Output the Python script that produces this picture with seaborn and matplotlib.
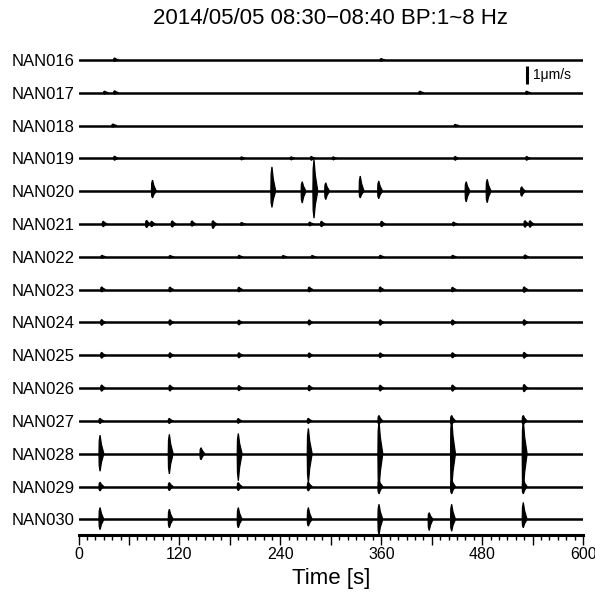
import numpy as np
import pandas as pd
import matplotlib
matplotlib.use("Agg")
import matplotlib.pyplot as plt
from matplotlib.ticker import MultipleLocator
import seaborn as sns

# Stationen von oben nach unten
stations = ['NAN016', 'NAN017', 'NAN018', 'NAN019', 'NAN020', 'NAN021', 'NAN022', 'NAN023',
            'NAN024', 'NAN025', 'NAN026', 'NAN027', 'NAN028', 'NAN029', 'NAN030']
spacing = 1.8   # Abstand der Spuren in um/s

# Ereignisse je Station: (Zeit [s], Ausschlag oben [um/s], Ausschlag unten [um/s])
ev016 = [(43, 0.10, 0.08), (360, 0.07, 0.07)]
ev017 = [(31, 0.08, 0.08), (43, 0.10, 0.08), (406, 0.08, 0.08), (533, 0.08, 0.08)]
ev018 = [(41, 0.08, 0.08), (448, 0.06, 0.06)]
ev019 = [(43, 0.12, 0.10), (194, 0.08, 0.08), (253, 0.08, 0.08), (277, 0.10, 0.10),
         (303, 0.08, 0.08), (448, 0.10, 0.10), (533, 0.10, 0.10)]
ev020 = [(88, 0.61, 0.37), (230, 1.33, 0.89), (266, 0.52, 0.65), (280, 1.72, 1.48),
         (294, 0.46, 0.46), (335, 0.83, 0.37), (357, 0.56, 0.41), (461, 0.52, 0.59),
         (486, 0.65, 0.63), (527, 0.24, 0.28)]
ev021 = [(29.5, 0.15, 0.15), (81, 0.20, 0.20), (87, 0.15, 0.15), (111.5, 0.17, 0.17),
         (135, 0.17, 0.12), (160, 0.18, 0.25), (194, 0.08, 0.08), (275, 0.10, 0.10),
         (289, 0.15, 0.15), (360.5, 0.15, 0.15), (446, 0.10, 0.10), (531, 0.18, 0.18),
         (537, 0.18, 0.18)]
ev022 = [(28, 0.08, 0.08), (109, 0.07, 0.07), (191, 0.08, 0.08), (243.5, 0.07, 0.07),
         (278, 0.07, 0.07), (359, 0.08, 0.08), (445, 0.08, 0.08), (531, 0.10, 0.10)]
ev023 = [(27.6, 0.15, 0.12), (108.8, 0.14, 0.12), (190.8, 0.13, 0.12), (274.4, 0.14, 0.12),
         (358.8, 0.15, 0.12), (444.8, 0.13, 0.12), (530, 0.15, 0.15)]
ev024 = [(27.6, 0.16, 0.16), (108.8, 0.15, 0.15), (190.8, 0.13, 0.13), (274.4, 0.14, 0.14),
         (358.8, 0.15, 0.15), (444.8, 0.14, 0.14), (530, 0.15, 0.15)]
ev025 = [(27.6, 0.16, 0.16), (108.8, 0.14, 0.14), (190.8, 0.14, 0.14), (274.4, 0.13, 0.13),
         (358.8, 0.13, 0.13), (444.8, 0.14, 0.14), (530, 0.16, 0.16)]
ev026 = [(27.6, 0.17, 0.17), (108.8, 0.16, 0.16), (190.8, 0.14, 0.14), (274.4, 0.15, 0.15),
         (358.8, 0.16, 0.16), (444.8, 0.17, 0.17), (530, 0.20, 0.20)]
ev027 = [(25.6, 0.14, 0.14), (108, 0.14, 0.14), (190, 0.13, 0.13), (273.3, 0.14, 0.14),
         (357.3, 0.30, 0.18), (443.7, 0.30, 0.20), (528.9, 0.30, 0.20)]
ev028 = [(25.6, 1.02, 0.96), (108, 1.06, 1.11), (145.7, 0.33, 0.33), (190, 1.11, 1.48),
         (273.3, 1.39, 1.61), (357.3, 1.78, 1.94), (443.7, 1.94, 1.94), (528.9, 1.83, 2.06)]
ev029 = [(25.6, 0.24, 0.24), (108, 0.22, 0.22), (190, 0.22, 0.22), (273.3, 0.24, 0.24),
         (357.3, 0.35, 0.40), (443.7, 0.40, 0.40), (528.9, 0.40, 0.40)]
ev030 = [(25.6, 0.65, 0.56), (108, 0.56, 0.46), (190, 0.65, 0.46), (273.3, 0.65, 0.37),
         (357.3, 0.83, 0.85), (417, 0.37, 0.61), (443.7, 0.83, 0.65), (528.9, 0.93, 0.46)]

events = [ev016, ev017, ev018, ev019, ev020, ev021, ev022, ev023,
          ev024, ev025, ev026, ev027, ev028, ev029, ev030]

t_start, t_end = 0, 600

sns.set_theme(style="ticks")
plt.rcParams['font.family'] = ['Liberation Sans', 'DejaVu Sans']
plt.rcParams['text.color'] = 'black'
plt.rcParams['xtick.color'] = 'black'
plt.rcParams['ytick.color'] = 'black'
plt.rcParams['axes.labelcolor'] = 'black'

fig = plt.figure(figsize=(5.95, 5.99), dpi=100)
ax = fig.add_axes([0.132, 0.107, 0.848, 0.818])

# Grundlinien der Spuren (Long-Format fuer seaborn)
offsets = [-spacing * i for i in range(len(stations))]
base = pd.DataFrame({
    'station': np.repeat(stations, 2),
    'time': [t_start, t_end] * len(stations),
    'offset': np.repeat(offsets, 2),
})
sns.lineplot(data=base, x='time', y='offset', units='station', estimator=None,
             color='black', lw=1.8, ax=ax, legend=False)

# Wellenzuege als Spindeln zeichnen (steiler Einsatz links, Coda rechts)
for y0, evs in zip(offsets, events):
    for t, up, dn in evs:
        xs = [t - 1.3, t - 1.0, t, t + 1.6, t + 4.5, t + 1.6, t, t - 1.0]
        ys = [0, 0.7 * up, up, 0.5 * up, 0, -0.5 * dn, -dn, -0.7 * dn]
        ax.fill(xs, [y0 + v for v in ys], color='black', lw=0.9, ec='black')

# Massstab 1 um/s
ax.plot([533, 533], [-0.33, -1.33], color='black', lw=2.2, solid_capstyle='butt')
ax.text(541, -0.83, '1\u03bcm/s', fontsize=10, va='center', ha='left')

ax.set_xlim(t_start, t_end)
ax.set_ylim(-spacing * 14 - 0.85, 0.82)
ax.set_yticks(offsets)
ax.set_yticklabels(stations, fontsize=12)
ax.tick_params(axis='y', length=0, pad=3)

ax.set_xticks(range(0, 601, 60))
ax.set_xticklabels([str(v) if v % 120 == 0 else '' for v in range(0, 601, 60)], fontsize=11.5)
ax.xaxis.set_minor_locator(MultipleLocator(10))
ax.tick_params(axis='x', which='major', direction='out', length=7, width=1, pad=2)
ax.tick_params(axis='x', which='minor', direction='out', length=3.5, width=1, bottom=True)
ax.set_xlabel('Time [s]', fontsize=16, labelpad=4)
ax.set_ylabel('')

for s in ['left', 'top', 'right']:
    ax.spines[s].set_visible(False)
ax.spines['bottom'].set_linewidth(2.2)
ax.spines['bottom'].set_color('black')

fig.text(0.556, 1 - 18 / 599, '2014/05/05 08:30\u221208:40 BP:1~8 Hz', fontsize=16,
         ha='center', va='center')

fig.savefig('out.png', dpi=100)
